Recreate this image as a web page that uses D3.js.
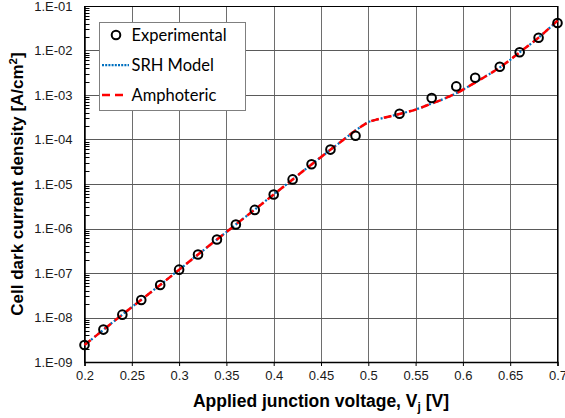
<!DOCTYPE html>
<html>
<head>
<meta charset="utf-8">
<script src="https://cdn.jsdelivr.net/npm/d3@7/dist/d3.min.js"></script>
<style>
  body { margin: 0; background: #fff; }
  svg { display: block; }
</style>
</head>
<body>
<div class="chart"></div>
<script>
// measured dark J-V points
const expV = [0.20, 0.22, 0.24, 0.26, 0.28, 0.30, 0.32, 0.34, 0.36, 0.38, 0.40, 0.42, 0.44, 0.46,
  0.4865, 0.533, 0.567, 0.593, 0.613, 0.639, 0.66, 0.68, 0.70];
const expJ = [2.41e-9, 5.35e-9, 1.16e-8, 2.48e-8, 5.39e-8, 1.19e-7, 2.61e-7, 5.66e-7, 1.23e-6, 2.62e-6,
  5.82e-6, 1.27e-5, 2.77e-5, 5.93e-5, 1.21e-4, 3.78e-4, 8.53e-4, 1.56e-3, 2.44e-3, 4.32e-3, 9.1e-3, 1.94e-2, 4.15e-2];

// model curves
const modelV = [0.20, 0.24, 0.28, 0.32, 0.36, 0.40, 0.44, 0.47, 0.49, 0.50, 0.51, 0.52, 0.535,
  0.55, 0.565, 0.58, 0.595, 0.61, 0.625, 0.64, 0.66, 0.68, 0.70];
const srhJ = [2.4e-9, 1.16e-8, 5.4e-8, 2.6e-7, 1.23e-6, 5.8e-6, 2.75e-5, 8.6e-5, 1.8e-4, 2.45e-4,
  2.85e-4, 3.2e-4, 3.85e-4, 4.7e-4, 6.2e-4, 8.2e-4, 1.15e-3, 1.75e-3, 2.7e-3, 4.3e-3, 9.1e-3, 1.95e-2, 4.7e-2];
const ampJ = [2.4e-9, 1.16e-8, 5.4e-8, 2.6e-7, 1.23e-6, 5.8e-6, 2.75e-5, 8.6e-5, 1.8e-4, 2.45e-4,
  2.85e-4, 3.2e-4, 3.85e-4, 4.7e-4, 6.2e-4, 8.2e-4, 1.15e-3, 1.75e-3, 2.7e-3, 4.3e-3, 9.1e-3, 1.95e-2, 4.7e-2];

const xTicks = [0.2, 0.25, 0.3, 0.35, 0.4, 0.45, 0.5, 0.55, 0.6, 0.65, 0.7];
const yTicks = [1e-9, 1e-8, 1e-7, 1e-6, 1e-5, 1e-4, 1e-3, 1e-2, 1e-1];

const width = 565, height = 418;
const plotL = 84.5, plotR = 557.5, plotT = 6, plotB = 362;

const svg = d3.select('.chart').append('svg')
  .attr('width', width)
  .attr('height', height);

const x = d3.scaleLinear().domain([0.2, 0.7]).range([plotL, plotR]);
const y = d3.scaleLog().domain([1e-9, 1e-1]).range([plotB, plotT]);

const snap = v => Math.round(v) + 0.5;
const expLabel = d => '1.E-' + String(Math.round(-Math.log10(d))).padStart(2, '0');

// gridlines
const grid = svg.append('g');
grid.selectAll('.vgrid')
  .data(xTicks.slice(1))
  .enter().append('line')
  .attr('x1', d => snap(x(d))).attr('x2', d => snap(x(d)))
  .attr('y1', plotT).attr('y2', plotB)
  .attr('stroke', '#6e6e6e').attr('stroke-width', 1);
grid.selectAll('.hgrid')
  .data(yTicks.slice(1))
  .enter().append('line')
  .attr('x1', plotL).attr('x2', plotR)
  .attr('y1', d => snap(y(d))).attr('y2', d => snap(y(d)))
  .attr('stroke', '#5a5a5a').attr('stroke-width', 1);

// frame
svg.append('rect')
  .attr('x', plotL).attr('y', snap(plotT))
  .attr('width', plotR - plotL).attr('height', plotB - plotT)
  .attr('fill', 'none').attr('stroke', '#000').attr('stroke-width', 1);

// left axis: labels + inward minor ticks
const minor = [];
yTicks.slice(0, -1).forEach(d => { for (let k = 2; k <= 9; k++) minor.push(d * k); });
const yAxis = d3.axisLeft(y).tickValues(yTicks).tickFormat(expLabel).tickSize(0).tickPadding(12);
const yg = svg.append('g').attr('transform', `translate(${plotL},0)`).call(yAxis);
yg.select('.domain').attr('stroke', '#000').attr('stroke-width', 1.5);
yg.selectAll('text').attr('font-family', 'Liberation Sans, Arial, sans-serif')
  .attr('font-size', 13).attr('fill', '#1a1a1a');
svg.append('g').selectAll('line')
  .data(minor)
  .enter().append('line')
  .attr('x1', plotL).attr('x2', plotL + 5)
  .attr('y1', d => snap(y(d))).attr('y2', d => snap(y(d)))
  .attr('stroke', '#000').attr('stroke-width', 1);

// bottom axis
const xAxis = d3.axisBottom(x).tickValues(xTicks).tickFormat(d3.format('')).tickSize(4).tickPadding(5);
const xg = svg.append('g').attr('transform', `translate(0,${plotB})`).call(xAxis);
xg.select('.domain').attr('stroke', '#000').attr('stroke-width', 1.5);
xg.selectAll('line').attr('stroke', '#000');
xg.selectAll('text').attr('font-family', 'Liberation Sans, Arial, sans-serif')
  .attr('font-size', 13).attr('fill', '#1a1a1a');

// model lines
const line = d3.line()
  .x(d => x(d[0]))
  .y(d => y(d[1]))
  .curve(d3.curveMonotoneX);

svg.append('path')
  .datum(modelV.map((v, i) => [v, srhJ[i]]))
  .attr('d', line)
  .attr('fill', 'none')
  .attr('stroke', '#0070C0')
  .attr('stroke-width', 2.25)
  .attr('stroke-dasharray', '2 2.2');

svg.append('path')
  .datum(modelV.map((v, i) => [v, ampJ[i]]))
  .attr('d', line)
  .attr('fill', 'none')
  .attr('stroke', '#FF0000')
  .attr('stroke-width', 2.5)
  .attr('stroke-dasharray', '8 5');

// experimental markers
svg.append('g').selectAll('circle')
  .data(expV.map((v, i) => [v, expJ[i]]))
  .enter().append('circle')
  .attr('cx', d => x(d[0]))
  .attr('cy', d => y(d[1]))
  .attr('r', 4.3)
  .attr('fill', 'none')
  .attr('stroke', '#000')
  .attr('stroke-width', 2);

// legend
const lg = svg.append('g');
lg.append('rect')
  .attr('x', 99.5).attr('y', 22.5).attr('width', 146).attr('height', 88)
  .attr('fill', '#fff').attr('stroke', '#7f7f7f').attr('stroke-width', 1);
lg.append('circle').attr('cx', 116).attr('cy', 35).attr('r', 4.3)
  .attr('fill', 'none').attr('stroke', '#000').attr('stroke-width', 2);
lg.append('line').attr('x1', 102).attr('x2', 129).attr('y1', 65).attr('y2', 65)
  .attr('stroke', '#0070C0').attr('stroke-width', 2.25).attr('stroke-dasharray', '2 1.2');
lg.append('line').attr('x1', 102).attr('x2', 127).attr('y1', 95).attr('y2', 95)
  .attr('stroke', '#FF0000').attr('stroke-width', 2.5).attr('stroke-dasharray', '8 5');
const names = ['Experimental', 'SRH Model', 'Amphoteric'];
lg.selectAll('text')
  .data(names)
  .enter().append('text')
  .attr('x', 131.5)
  .attr('y', (d, i) => 35 + i * 30)
  .attr('dy', '0.35em')
  .attr('font-family', 'Lato, sans-serif')
  .attr('font-size', 16.5)
  .attr('fill', '#000')
  .text(d => d);

// axis titles
const yt = svg.append('text')
  .attr('transform', `translate(23,${(plotT + plotB) / 2}) rotate(-90)`)
  .attr('text-anchor', 'middle')
  .attr('font-family', 'Liberation Sans, Arial, sans-serif')
  .attr('font-weight', 'bold')
  .attr('font-size', 17)
  .attr('fill', '#000');
yt.append('tspan').text('Cell dark current density [A/cm');
yt.append('tspan').attr('font-size', 11.5).attr('dy', -6).text('2');
yt.append('tspan').attr('dy', 6).text(']');

const xt = svg.append('text')
  .attr('x', (plotL + plotR) / 2)
  .attr('y', 407)
  .attr('text-anchor', 'middle')
  .attr('font-family', 'Liberation Sans, Arial, sans-serif')
  .attr('font-weight', 'bold')
  .attr('font-size', 17.5)
  .attr('fill', '#000');
xt.append('tspan').text('Applied junction voltage, V');
xt.append('tspan').attr('font-size', 12).attr('dy', 4).text('j');
xt.append('tspan').attr('dy', -4).text(' [V]');
</script>
</body>
</html>
